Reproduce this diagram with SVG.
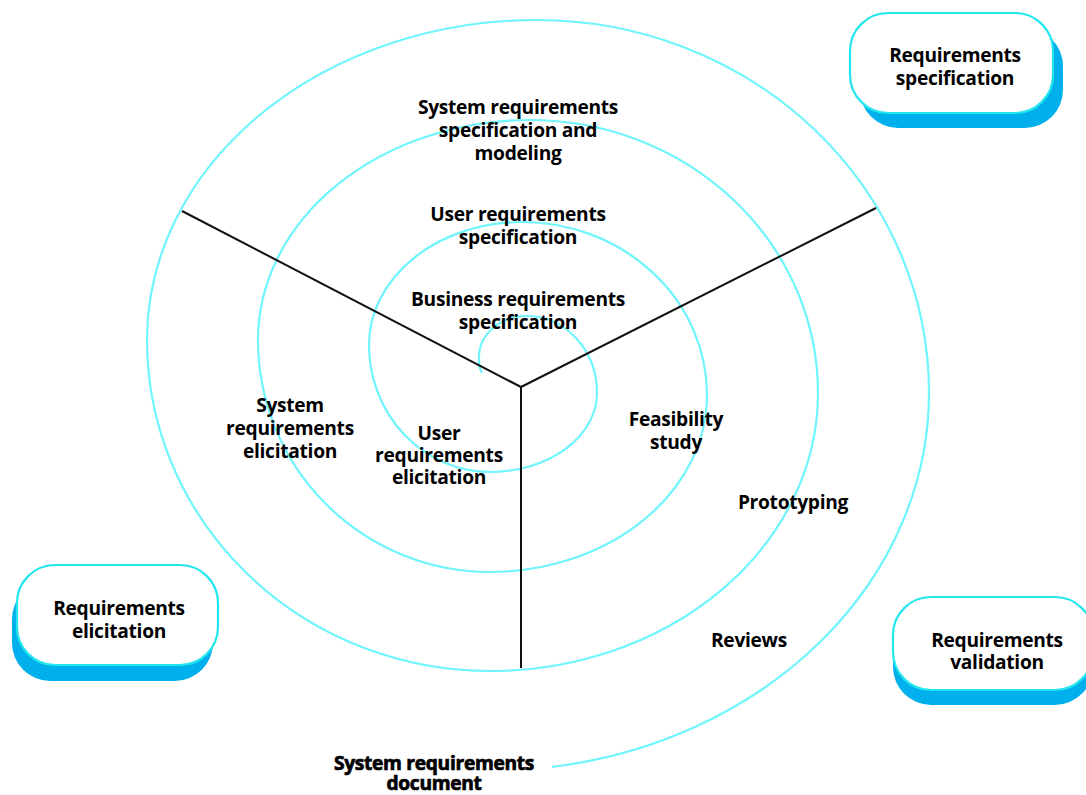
<svg xmlns="http://www.w3.org/2000/svg" width="1086" height="795" viewBox="0 0 1086 795">
<style>
.spiral{fill:none;stroke:#6ff5fd;stroke-width:2.2}
.axis{fill:none;stroke:#111;stroke-width:2}
.box{fill:#fff;stroke:#22e6ee;stroke-width:2.2}
.shadow{fill:#00b0ec}
text{font-family:"Open Sans","Noto Sans","DejaVu Sans",sans-serif;font-weight:bold;font-size:19.2px;fill:#000;text-anchor:middle;letter-spacing:-0.3px}
.heavy{stroke:#000;stroke-width:0.7}
</style>
<rect width="1086" height="795" fill="#fff"/>
<g id="spiral">
<path class="spiral" d="M 482 373 Q 478 366 479 357 A 48 41 0 0 1 527 316 A 70 77 0 0 1 597 393 A 107 79 0 0 1 490 472 A 121 127 0 0 1 369 345 A 153 123 0 0 1 522 222 A 185 173 0 0 1 707 395 A 217 177 0 0 1 490 572 A 232 232 0 0 1 258 340 A 272 220 0 0 1 530 120 A 288 273 0 0 1 818 393 A 328 278 0 0 1 490 671 A 343 331 0 0 1 147 340 A 390 320 0 0 1 537 20 A 392 373 0 0 1 929 393 A 439 378 0 0 1 552 767"/>
</g>
<g id="connectors">
<path class="axis" d="M 521 387 L 182 211"/>
<path class="axis" d="M 521 387 L 876 208"/>
<path class="axis" d="M 521 387 L 521 668"/>
</g>
<g id="labels">
<text x="518" y="114">System requirements</text>
<text x="518" y="137">specification and</text>
<text x="518" y="160">modeling</text>
<text x="518" y="221">User requirements</text>
<text x="518" y="244">specification</text>
<text x="518" y="306">Business requirements</text>
<text x="518" y="329">specification</text>
<text x="290" y="412">System</text>
<text x="290" y="435">requirements</text>
<text x="290" y="458">elicitation</text>
<text x="439" y="440">User</text>
<text x="439" y="462">requirements</text>
<text x="439" y="484">elicitation</text>
<text x="676" y="426">Feasibility</text>
<text x="676" y="449">study</text>
<text x="793" y="509">Prototyping</text>
<text x="749" y="647">Reviews</text>
</g>
<g id="doc">
<text class="heavy" x="434" y="770">System requirements</text>
<text class="heavy" x="434" y="790">document</text>
</g>
<g id="spec">
<rect class="shadow" x="860" y="28" width="203" height="100" rx="38"/>
<rect class="box" x="850" y="13" width="203" height="100" rx="38"/>
<text x="955" y="62">Requirements</text>
<text x="955" y="85">specification</text>
</g>
<g id="elicit">
<rect class="shadow" x="12" y="581" width="201" height="100" rx="38"/>
<rect class="box" x="17" y="565" width="201" height="100" rx="38"/>
<text x="119" y="615">Requirements</text>
<text x="119" y="638">elicitation</text>
</g>
<g id="valid">
<rect class="shadow" x="893" y="612" width="200" height="93" rx="38"/>
<rect class="box" x="893" y="597" width="200" height="93" rx="38"/>
<text x="997" y="647">Requirements</text>
<text x="997" y="669">validation</text>
</g>
</svg>
